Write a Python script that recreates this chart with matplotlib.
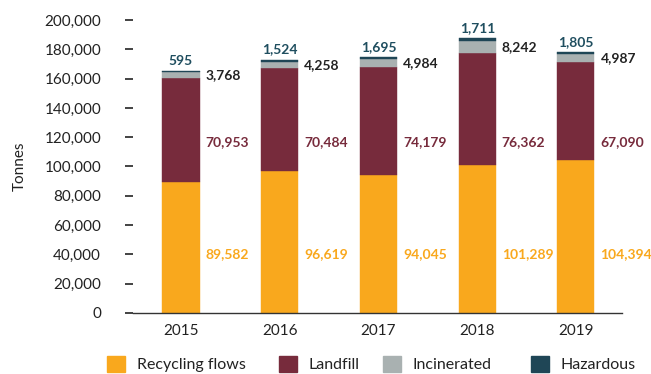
import matplotlib
matplotlib.use("Agg")
import matplotlib.pyplot as plt
from matplotlib.patches import Patch
import numpy as np

years = ["2015", "2016", "2017", "2018", "2019"]
recycling = [89582, 96619, 94045, 101289, 104394]
landfill = [70953, 70484, 74179, 76362, 67090]
incinerated = [3768, 4258, 4984, 8242, 4987]
hazardous = [595, 1524, 1695, 1711, 1805]
series_names = ["Recycling flows", "Landfill", "Incinerated", "Hazardous"]
yticks = list(range(0, 200001, 20000))

colors = ["#F9A81D", "#772B3C", "#A9B1B1", "#1F4656"]
label_colors = ["#F9A81D", "#772B3C", "#222222", "#1F4E5F"]

plt.rcParams['font.family'] = ['Lato', 'DejaVu Sans']

fig = plt.figure(figsize=(6.51, 3.74), dpi=100)
ax = fig.add_axes([133/651, 1-313/374, (622-133)/651, (313-20)/374])

x = np.arange(len(years))
w = 0.375
rec = np.array(recycling); lf = np.array(landfill); inc = np.array(incinerated); hz = np.array(hazardous)
bottoms = [np.zeros(5), rec, rec+lf, rec+lf+inc]
vals = [rec, lf, inc, hz]
for v, b, c, n in zip(vals, bottoms, colors, series_names):
    ax.bar(x, v, w, bottom=b, color=c, label=n, edgecolor=c, linewidth=0.3)

for i in range(5):
    xr = x[i] + w/2 + 0.06
    ax.text(xr, 40300, f"{recycling[i]:,}", color=label_colors[0], fontsize=10, fontweight='bold', va='center', ha='left')
    ax.text(xr, 116700, f"{landfill[i]:,}", color=label_colors[1], fontsize=10, fontweight='bold', va='center', ha='left')
    ax.text(xr, rec[i]+lf[i]+inc[i]/2, f"{incinerated[i]:,}", color=label_colors[2], fontsize=10, fontweight='bold', va='center', ha='left')
    top = rec[i]+lf[i]+inc[i]+hz[i]
    ax.annotate(f"{hazardous[i]:,}", (x[i], top), xytext=(0, 3), textcoords='offset points',
                color=label_colors[3], fontsize=10, fontweight='bold', va='bottom', ha='center')

ax.set_xlim(-0.486, 4.466)
ax.set_ylim(0, 200000)
ax.set_xticks(x)
ax.set_xticklabels(years)
ax.set_yticks(yticks)
ax.set_yticklabels([f"{t:,}" for t in yticks])
for s in ['top', 'right', 'left']:
    ax.spines[s].set_visible(False)
ax.spines['bottom'].set_color('#333333')
ax.spines['bottom'].set_linewidth(1.0)
ax.tick_params(axis='y', length=6, width=1.2, color='#222222', pad=17, labelsize=11, labelcolor='#222222')
ax.tick_params(axis='x', length=0, pad=8, labelsize=11, labelcolor='#222222')
ax.set_ylabel("Tonnes", fontsize=11, color='#222222', labelpad=13)

# legend entries placed individually to match the reference spacing
legend_x = [107, 279, 383, 531]
for name, c, lx in zip(series_names, colors, legend_x):
    lg = fig.legend(handles=[Patch(facecolor=c, edgecolor=c)], labels=[name],
                    loc='center left', bbox_to_anchor=(lx/651, 1-364/374),
                    frameon=False, fontsize=11.5, handlelength=1.15, handleheight=1.15,
                    handletextpad=0.7, borderpad=0, borderaxespad=0, labelcolor='#222222')

fig.savefig("out.png", dpi=100)
